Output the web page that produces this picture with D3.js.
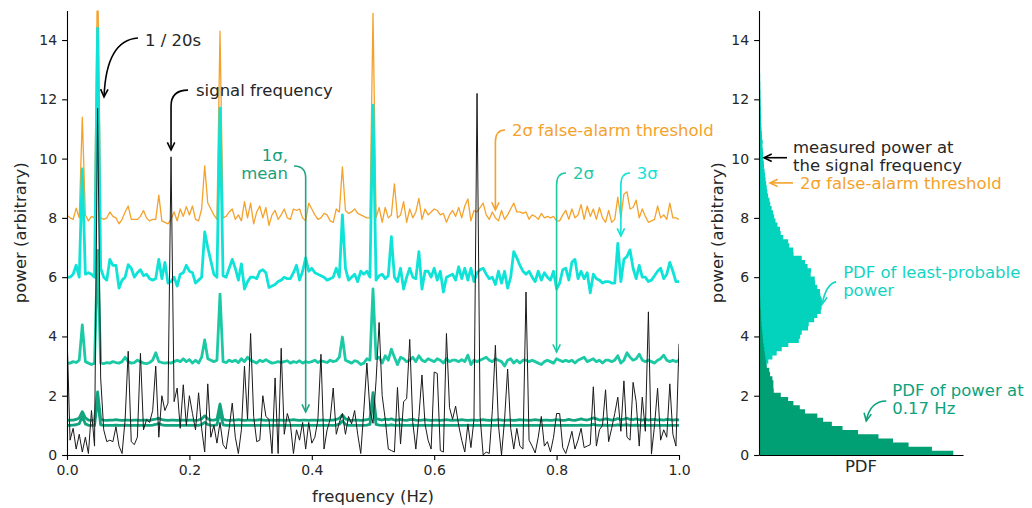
<!DOCTYPE html>
<html>
<head>
<meta charset="utf-8">
<script src="https://cdn.jsdelivr.net/npm/d3@7"></script>
<style>
  body { margin: 0; background: #fff; }
  svg text { font-family: "DejaVu Sans", sans-serif; }
</style>
</head>
<body>
<svg id="chart" width="1032" height="508"></svg>
<script>
// ---------------- data ----------------
// frequency grid: 0 .. 1 Hz in steps of 0.005 Hz (201 samples)
const frequencies = d3.range(201).map(i => i / 200);

// measured periodogram power
const measuredPower = [
  4.1, 0.5, 0.9, 0.2, 0.7, 0.1, 0.6, 0.05, 1.5, 0.3,
  11.7, 2.6, 0.85, 0.45, 0.5, 0.45, 0.95, 0.3, 0.05, 1.2,
  3.5, 0.45, 0.35, 0.6, 3.43, 0.85, 1.2, 1.1, 1.5, 3.0,
  0.6, 2.0, 1.5, 1.75, 10.06, 1.8, 2.26, 0.9, 2.37, 1.0,
  2.0, 1.4, 0.85, 2.1, 0.9, 0.1, 2.4, 0.6, 1.0, 0.4,
  1.1, 0.35, 0.2, 0.9, 1.75, 0.6, 0.05, 0.85, 3.0, 1.2,
  4.1, 1.3, 0.45, 0.5, 2.0, 1.3, 1.2, 0.05, 2.6, 0.05,
  3.6, 0.7, 1.4, 1.05, 0.05, 0.85, 0.5, 1.1, 0.2, 1.1,
  0.4, 0.6, 1.2, 3.4, 0.2, 0.85, 1.2, 2.26, 0.7, 1.1,
  1.4, 0.7, 1.3, 1.05, 1.5, 0.7, 0.05, 1.5, 3.1, 1.5,
  1.07, 2.5, 4.47, 2.0, 1.2, 0.2, 0.15, 0.1, 2.28, 0.37,
  1.8, 1.9, 3.9, 1.1, 0.2, 1.3, 2.7, 1.05, 0.5, 0.2,
  2.8, 2.75, 0.15, 0.1, 4.1, 1.6, 1.2, 1.65, 1.0, 0.5,
  0.1, 1.05, 0.25, 1.2, 12.2, 1.3, 0.0, 0.1, 0.05, 1.5,
  3.7, 1.0, 0.0, 1.2, 2.9, 0.9, 0.2, 0.9, 0.3, 0.2,
  5.5, 0.5, 0.3, 0.07, 0.6, 1.3, 0.3, 0.45, 0.1, 0.6,
  1.4, 1.4, 0.25, 0.05, 0.4, 0.8, 0.2, 0.5, 0.9, 0.25,
  0.3, 0.35, 2.3, 0.3, 0.85, 1.0, 2.2, 0.45, 0.9, 1.4,
  1.95, 0.8, 2.5, 0.6, 0.5, 2.45, 1.8, 0.3, 1.95, 0.8,
  4.83, 0.03, 1.0, 2.25, 0.5, 0.85, 0.6, 2.4, 0.7, 0.3,
  3.75
];

// mean power of the noise simulations
const meanPower = [
  1.00, 1.00, 1.01, 1.02, 1.06, 1.30, 1.05, 1.00, 1.00, 1.00,
  1.90, 1.02, 1.00, 1.00, 1.00, 1.00, 1.01, 1.00, 1.00, 1.01,
  1.00, 1.00, 1.00, 1.00, 1.00, 1.00, 1.00, 1.00, 1.01, 1.03,
  1.06, 1.02, 1.00, 1.00, 1.00, 1.00, 1.00, 1.00, 1.00, 1.00,
  1.00, 1.00, 1.00, 1.00, 1.03, 1.10, 1.03, 1.00, 1.00, 1.02,
  1.45, 1.02, 1.00, 1.00, 1.00, 1.00, 1.00, 1.00, 1.00, 1.00,
  1.00, 1.00, 1.00, 1.00, 1.00, 1.00, 1.00, 1.00, 1.00, 1.00,
  1.00, 1.00, 1.00, 1.00, 1.00, 1.00, 1.00, 1.00, 1.00, 1.00,
  1.00, 1.00, 1.00, 1.00, 1.00, 1.00, 1.00, 1.00, 1.01, 1.04,
  1.15, 1.03, 1.00, 1.00, 1.00, 1.00, 1.00, 1.00, 1.01, 1.03,
  1.85, 1.03, 1.01, 1.00, 1.01, 1.00, 1.02, 1.00, 1.00, 1.01,
  1.00, 1.00, 1.00, 1.01, 1.00, 1.00, 1.00, 1.00, 1.00, 1.00,
  1.00, 1.00, 1.00, 1.00, 1.00, 1.00, 1.00, 1.00, 1.00, 1.00,
  1.00, 1.00, 1.00, 1.00, 1.00, 1.00, 1.00, 1.00, 1.00, 1.00,
  1.00, 1.00, 1.00, 1.00, 1.00, 1.00, 1.00, 1.00, 1.00, 1.00,
  1.00, 1.00, 1.00, 1.00, 1.00, 1.00, 1.00, 1.00, 1.00, 1.00,
  1.00, 1.00, 1.00, 1.00, 1.00, 1.00, 1.00, 1.00, 1.01, 1.00,
  1.00, 1.01, 1.03, 1.01, 1.00, 1.00, 1.01, 1.00, 1.00, 1.00,
  1.02, 1.00, 1.01, 1.02, 1.00, 1.00, 1.01, 1.00, 1.00, 1.00,
  1.00, 1.00, 1.00, 1.00, 1.00, 1.00, 1.00, 1.00, 1.00, 1.00,
  1.00
];

// 1-sigma level
const sigma1Power = [
  1.17, 1.18, 1.18, 1.20, 1.25, 1.46, 1.25, 1.18, 1.17, 1.18,
  2.13, 1.20, 1.18, 1.17, 1.18, 1.18, 1.19, 1.18, 1.17, 1.18,
  1.18, 1.17, 1.18, 1.18, 1.17, 1.18, 1.18, 1.17, 1.19, 1.21,
  1.24, 1.19, 1.18, 1.17, 1.18, 1.18, 1.17, 1.18, 1.18, 1.17,
  1.18, 1.18, 1.17, 1.18, 1.22, 1.32, 1.22, 1.18, 1.18, 1.20,
  1.72, 1.20, 1.18, 1.17, 1.18, 1.18, 1.19, 1.18, 1.17, 1.18,
  1.18, 1.17, 1.18, 1.19, 1.18, 1.17, 1.18, 1.18, 1.17, 1.18,
  1.18, 1.17, 1.18, 1.18, 1.19, 1.18, 1.17, 1.18, 1.18, 1.17,
  1.18, 1.18, 1.17, 1.18, 1.18, 1.17, 1.18, 1.18, 1.20, 1.24,
  1.35, 1.22, 1.18, 1.17, 1.18, 1.18, 1.17, 1.18, 1.19, 1.22,
  2.10, 1.22, 1.20, 1.18, 1.21, 1.19, 1.22, 1.18, 1.18, 1.20,
  1.18, 1.17, 1.19, 1.20, 1.18, 1.17, 1.18, 1.19, 1.18, 1.17,
  1.18, 1.18, 1.17, 1.18, 1.19, 1.18, 1.17, 1.18, 1.18, 1.19,
  1.18, 1.17, 1.18, 1.18, 1.17, 1.18, 1.19, 1.18, 1.17, 1.18,
  1.18, 1.19, 1.18, 1.17, 1.18, 1.18, 1.17, 1.18, 1.19, 1.18,
  1.18, 1.17, 1.18, 1.19, 1.18, 1.17, 1.18, 1.18, 1.17, 1.18,
  1.19, 1.18, 1.17, 1.18, 1.20, 1.18, 1.17, 1.19, 1.22, 1.19,
  1.18, 1.21, 1.25, 1.22, 1.18, 1.19, 1.22, 1.20, 1.18, 1.19,
  1.23, 1.19, 1.21, 1.24, 1.20, 1.19, 1.22, 1.19, 1.18, 1.20,
  1.18, 1.19, 1.20, 1.18, 1.19, 1.18, 1.20, 1.19, 1.18, 1.19,
  1.18
];

// 2-sigma level
const sigma2Power = [
  3.10, 3.10, 3.15, 3.12, 3.20, 4.39, 3.15, 3.10, 3.05, 3.10,
  6.90, 3.10, 3.08, 3.12, 3.10, 3.15, 3.12, 3.10, 3.15, 3.30,
  3.15, 3.10, 3.12, 3.20, 3.15, 3.10, 3.08, 3.12, 3.20, 3.45,
  3.15, 3.12, 3.10, 3.12, 3.10, 3.15, 3.20, 3.15, 3.25, 3.15,
  3.22, 3.10, 3.20, 3.10, 3.30, 3.88, 3.25, 3.20, 3.15, 3.20,
  5.43, 3.15, 3.12, 3.20, 3.15, 3.20, 3.12, 3.25, 3.15, 3.30,
  3.20, 3.15, 3.10, 3.20, 3.15, 3.22, 3.15, 3.10, 3.12, 3.15,
  3.12, 3.15, 3.18, 3.10, 3.15, 3.12, 3.18, 3.10, 3.15, 3.12,
  3.15, 3.20, 3.12, 3.18, 3.15, 3.12, 3.20, 3.15, 3.18, 3.30,
  3.98, 3.20, 3.15, 3.10, 3.18, 3.15, 3.05, 3.10, 3.25, 3.20,
  5.60, 3.25, 3.30, 3.10, 3.35, 3.20, 3.57, 3.30, 3.05, 3.30,
  3.25, 3.15, 3.20, 3.30, 3.15, 3.35, 3.20, 3.15, 3.25, 3.20,
  3.15, 3.25, 3.20, 3.10, 3.25, 3.15, 3.20, 3.20, 3.15, 3.22,
  3.15, 3.37, 3.05, 3.20, 3.15, 3.20, 3.25, 3.30, 3.20, 3.15,
  3.25, 3.20, 3.15, 3.00, 3.20, 3.25, 3.10, 3.20, 3.10, 3.20,
  3.20, 3.15, 3.20, 3.15, 3.10, 3.05, 3.15, 3.20, 3.15, 3.10,
  3.25, 3.20, 3.15, 3.20, 3.15, 3.20, 3.10, 3.20, 3.25, 3.30,
  3.15, 3.20, 3.25, 3.15, 3.20, 3.10, 3.20, 3.20, 3.15, 3.20,
  3.35, 3.10, 3.20, 3.45, 3.30, 3.20, 3.25, 3.40, 3.20, 3.15,
  3.20, 3.15, 3.10, 3.20, 3.25, 3.37, 3.20, 3.15, 3.20, 3.15,
  3.20
];

// 3-sigma level
const sigma3Power = [
  6.00, 6.00, 6.10, 6.40, 6.00, 9.65, 6.10, 6.15, 6.10, 6.00,
  14.4, 6.30, 6.00, 5.90, 6.60, 6.40, 6.40, 5.63, 5.90, 6.00,
  6.42, 6.30, 6.00, 6.15, 6.25, 6.05, 6.10, 5.95, 5.90, 5.95,
  6.60, 5.95, 6.50, 5.80, 5.85, 6.00, 5.70, 6.10, 6.15, 6.40,
  6.20, 6.15, 5.80, 5.90, 6.00, 7.53, 7.00, 6.55, 6.10, 6.00,
  11.7, 6.05, 6.00, 6.30, 6.60, 6.30, 5.90, 6.45, 5.60, 5.85,
  6.00, 6.00, 5.95, 6.20, 6.25, 6.15, 5.65, 5.70, 5.75, 5.85,
  5.90, 6.00, 5.95, 5.95, 6.15, 6.40, 5.90, 6.20, 6.65, 6.20,
  6.30, 6.15, 6.10, 6.05, 6.00, 5.90, 5.95, 6.00, 6.30, 6.00,
  8.10, 6.30, 5.90, 6.00, 6.10, 5.85, 6.20, 6.10, 6.20, 6.00,
  11.8, 5.90, 6.05, 6.10, 5.95, 6.05, 7.37, 6.00, 5.85, 6.30,
  5.60, 6.00, 6.30, 6.00, 5.95, 6.86, 5.60, 6.20, 6.20, 6.00,
  6.30, 5.90, 6.20, 5.50, 6.00, 6.05, 6.10, 5.90, 6.35, 5.95,
  6.30, 5.90, 6.30, 5.85, 6.15, 6.25, 6.30, 6.10, 5.95, 6.00,
  5.75, 6.20, 5.80, 6.20, 5.63, 6.00, 6.86, 6.65, 6.40, 6.20,
  6.10, 6.20, 6.00, 5.85, 6.20, 5.90, 6.15, 6.00, 5.90, 6.20,
  5.60, 5.80, 6.25, 6.30, 5.90, 6.50, 6.60, 5.95, 6.20, 5.95,
  6.15, 5.47, 6.10, 5.95, 5.90, 5.80, 5.85, 5.85, 5.80, 5.80,
  7.14, 5.85, 6.60, 6.70, 6.92, 6.30, 5.95, 6.40, 6.00, 6.00,
  5.85, 5.90, 6.05, 6.20, 6.30, 5.95, 6.10, 6.50, 6.20, 5.85,
  5.85
];

// 2-sigma false-alarm threshold
const falseAlarmPower = [
  8.10, 8.00, 7.95, 8.33, 8.00, 11.4, 8.10, 7.90, 8.05, 8.00,
  16.5, 8.00, 7.95, 8.00, 8.20, 8.05, 8.00, 7.80, 7.95, 8.20,
  8.40, 7.95, 7.95, 7.95, 8.05, 8.25, 8.00, 7.90, 7.95, 7.95,
  8.77, 7.90, 7.85, 7.80, 7.95, 8.20, 7.90, 8.30, 8.05, 8.38,
  8.10, 8.40, 7.95, 7.90, 8.30, 9.75, 8.50, 8.30, 8.10, 7.95,
  14.3, 8.00, 8.05, 8.20, 8.30, 7.95, 8.10, 7.90, 8.55, 8.00,
  8.50, 7.80, 8.20, 8.40, 8.00, 8.35, 7.75, 8.10, 8.25, 7.95,
  8.10, 8.30, 8.00, 7.95, 8.30, 8.25, 8.30, 8.00, 7.90, 8.50,
  8.30, 8.10, 7.95, 8.00, 8.15, 8.10, 7.90, 7.85, 8.30, 8.20,
  9.72, 8.25, 8.15, 8.20, 8.30, 8.15, 8.10, 8.05, 8.00, 8.00,
  14.9, 8.00, 8.35, 7.85, 8.35, 8.00, 8.10, 9.15, 8.00, 8.10,
  8.55, 7.85, 8.30, 8.00, 8.20, 8.66, 7.95, 8.30, 8.10, 8.20,
  8.30, 8.25, 8.10, 8.15, 7.85, 8.10, 8.25, 8.05, 8.35, 8.00,
  8.40, 8.64, 7.90, 8.25, 8.20, 8.35, 8.50, 8.10, 7.95, 8.20,
  8.00, 7.90, 8.25, 7.95, 8.10, 8.30, 8.50, 8.20, 8.20, 8.15,
  8.20, 7.95, 8.10, 8.05, 7.95, 8.15, 8.00, 8.05, 8.00, 8.05,
  7.90, 7.90, 8.10, 8.25, 7.95, 8.30, 8.00, 8.10, 8.45, 7.95,
  8.40, 8.05, 8.30, 7.95, 8.35, 8.00, 7.85, 8.25, 7.85, 7.95,
  8.70, 8.00, 8.80, 8.88, 8.30, 8.35, 8.60, 8.00, 8.30, 8.05,
  7.85, 7.90, 7.95, 8.40, 8.00, 8.10, 7.95, 8.50, 8.00, 8.00,
  7.95
];

// histogram bins of power (width 0.14)
const binWidth = 0.14;
// PDF of power at 0.17 Hz, bins starting at 0
const pdfAt017 = [
  1.00, 0.89, 0.77, 0.69, 0.615, 0.51, 0.43, 0.375, 0.33, 0.30,
  0.237, 0.21, 0.177, 0.15, 0.112, 0.076, 0.074, 0.074, 0.069, 0.057,
  0.053, 0.040, 0.036, 0.033, 0.030, 0.027, 0.024, 0.021, 0.019, 0.017,
  0.015, 0.013, 0.012, 0.011, 0.010, 0.008, 0.007, 0.006, 0.005, 0.004,
  0.003, 0.003, 0.002, 0.002, 0.001, 0.001
];
// PDF of the least-probable power, first bin index 16 (power 2.24)
const pdfLeastFirstBin = 16;
const pdfLeastProbable = [
  0.004, 0.006, 0.012, 0.018, 0.022, 0.024, 0.048, 0.069, 0.091, 0.117,
  0.151, 0.205, 0.212, 0.220, 0.252, 0.256, 0.284, 0.300, 0.318, 0.322,
  0.325, 0.322, 0.316, 0.314, 0.300, 0.289, 0.287, 0.266, 0.268, 0.250,
  0.237, 0.220, 0.178, 0.176, 0.156, 0.150, 0.125, 0.112, 0.108, 0.095,
  0.085, 0.078, 0.072, 0.065, 0.058, 0.054, 0.047, 0.043, 0.040, 0.037,
  0.034, 0.031, 0.029, 0.026, 0.025, 0.022, 0.022, 0.020, 0.018, 0.019,
  0.016, 0.015, 0.013, 0.012, 0.011, 0.011, 0.010, 0.010, 0.009, 0.009,
  0.008, 0.008, 0.007, 0.007, 0.006, 0.006, 0.005, 0.005, 0.005, 0.004,
  0.004, 0.003, 0.003, 0.003, 0.002
];

// tick labels
const freqTicks = [0, 0.2, 0.4, 0.6, 0.8, 1.0];
const powerTicks = [0, 2, 4, 6, 8, 10, 12, 14];

// ---------------- styling ----------------
const INK = "#262626";
const C_ORANGE = "#f4a22c";
const C_3SIG = "#0fe3d7";
const C_2SIG = "#1cc9a5";
const C_1SIG = "#12a47f";
const C_HIST_LP = "#03d2bc";
const C_HIST_017 = "#009f74";

const svg = d3.select("#chart");

// left panel scales
const x = d3.scaleLinear().domain([0, 1]).range([67, 679]);
const y = d3.scaleLinear().domain([0, 15]).range([455, 10.4]);
// right panel scale (PDF)
const xp = d3.scaleLinear().domain([0, 1.05]).range([759, 963]);

const defs = svg.append("defs");
defs.append("clipPath").attr("id", "clipL").append("rect")
  .attr("x", x(0)).attr("y", y(15)).attr("width", x(1) - x(0)).attr("height", y(0) - y(15));
defs.append("clipPath").attr("id", "clipR").append("rect")
  .attr("x", xp(0)).attr("y", y(15)).attr("width", xp(1.05) - xp(0)).attr("height", y(0) - y(15));

// ---------------- left panel: spectra ----------------
const gL = svg.append("g").attr("clip-path", "url(#clipL)");
const line = d3.line().x((d, i) => x(frequencies[i])).y(d => y(d));

const series = [
  { data: falseAlarmPower, color: C_ORANGE, width: 1.3 },
  { data: sigma3Power, color: C_3SIG, width: 2.8 },
  { data: sigma2Power, color: C_2SIG, width: 2.8 },
  { data: sigma1Power, color: C_1SIG, width: 2.8 },
  { data: meanPower, color: C_1SIG, width: 2.8 },
  { data: measuredPower, color: "#1a1a1a", width: 1.0 }
];
series.forEach(s => {
  gL.append("path").datum(s.data)
    .attr("d", line)
    .attr("fill", "none")
    .attr("stroke", s.color)
    .attr("stroke-width", s.width)
    .attr("stroke-linejoin", "round");
});

// axes
function styleAxis(g) {
  g.selectAll(".domain").attr("stroke", "#000").attr("stroke-width", 1.1);
  g.selectAll(".tick line").attr("stroke", "#000").attr("stroke-width", 1.1);
  g.selectAll(".tick text").attr("fill", INK).attr("font-size", 14)
    .attr("font-family", "DejaVu Sans, sans-serif");
}
svg.append("g").attr("transform", `translate(0,${y(0)})`)
  .call(d3.axisBottom(x).tickValues(freqTicks).tickFormat(d3.format(".1f"))
    .tickSize(4.9).tickPadding(5).tickSizeOuter(0))
  .call(styleAxis);
svg.append("g").attr("transform", `translate(${x(0)},0)`)
  .call(d3.axisLeft(y).tickValues(powerTicks).tickFormat(d3.format("d"))
    .tickSize(4.9).tickPadding(5).tickSizeOuter(0))
  .call(styleAxis);

svg.append("text").attr("x", (x(0) + x(1)) / 2).attr("y", 502)
  .attr("text-anchor", "middle").attr("font-size", 16.5).attr("fill", INK)
  .text("frequency (Hz)");
svg.append("text").attr("transform", `translate(26,${(y(0) + y(15)) / 2}) rotate(-90)`)
  .attr("text-anchor", "middle").attr("font-size", 16.5).attr("fill", INK)
  .text("power (arbitrary)");

// ---------------- right panel: histograms ----------------
const gR = svg.append("g").attr("clip-path", "url(#clipR)");
const lpBins = pdfLeastProbable.map((v, k) => ({ lo: (k + pdfLeastFirstBin) * binWidth, v }));
const g017Bins = pdfAt017.map((v, k) => ({ lo: k * binWidth, v }));

// each histogram is one filled step outline (no seams between bins)
function drawHist(bins, color) {
  const first = bins[0].lo, last = bins[bins.length - 1].lo + binWidth;
  let d = `M${xp(0)},${y(first)}`;
  bins.forEach(b => {
    d += `L${xp(b.v)},${y(b.lo)}L${xp(b.v)},${y(b.lo + binWidth)}`;
  });
  d += `L${xp(0)},${y(last)}Z`;
  gR.append("path").attr("d", d).attr("fill", color);
}
drawHist(lpBins, C_HIST_LP);
drawHist(g017Bins, C_HIST_017);

svg.append("g").attr("transform", `translate(${xp(0)},0)`)
  .call(d3.axisLeft(y).tickValues(powerTicks).tickFormat(d3.format("d"))
    .tickSize(4.9).tickPadding(5).tickSizeOuter(0))
  .call(styleAxis);
svg.append("g").attr("transform", `translate(0,${y(0)})`)
  .call(d3.axisBottom(xp).tickValues([]).tickSizeOuter(0))
  .call(styleAxis);

svg.append("text").attr("x", (xp(0) + xp(1.05)) / 2).attr("y", 472)
  .attr("text-anchor", "middle").attr("font-size", 16.5).attr("fill", INK)
  .text("PDF");
svg.append("text").attr("transform", `translate(723,${(y(0) + y(15)) / 2}) rotate(-90)`)
  .attr("text-anchor", "middle").attr("font-size", 16.5).attr("fill", INK)
  .text("power (arbitrary)");

// ---------------- annotations ----------------
function drawArrow(g, p, color, sx, sy) {
  const s = [sx(p.start[0]), sy(p.start[1])];
  const t = [sx(p.tip[0]), sy(p.tip[1])];
  let d = `M${s}`;
  let prev = s;
  if (p.ctrl) {
    const c = [sx(p.ctrl[0]), sy(p.ctrl[1])];
    const b = p.bend ? [sx(p.bend[0]), sy(p.bend[1])] : t;
    d += `Q${c} ${b}`;
    prev = c;
    if (p.bend) { d += `L${t}`; prev = b; }
  } else {
    d += `L${t}`;
  }
  const ang = Math.atan2(t[1] - prev[1], t[0] - prev[0]);
  const L = 8.5, a = 0.45;
  const h1 = [t[0] - L * Math.cos(ang - a), t[1] - L * Math.sin(ang - a)];
  const h2 = [t[0] - L * Math.cos(ang + a), t[1] - L * Math.sin(ang + a)];
  g.append("path").attr("d", d).attr("fill", "none")
    .attr("stroke", color).attr("stroke-width", 1.6);
  g.append("path").attr("d", `M${h1}L${t}L${h2}`).attr("fill", "none")
    .attr("stroke", color).attr("stroke-width", 1.6)
    .attr("stroke-linejoin", "miter");
}
function drawNote(g, n, sx, sy) {
  n.lines.forEach((txt, k) => {
    g.append("text")
      .attr("x", sx(n.at[0])).attr("y", sy(n.at[1]) + k * n.lead)
      .attr("dy", "0.35em")
      .attr("text-anchor", n.anchor)
      .attr("font-size", 16.5)
      .attr("fill", n.color)
      .text(txt);
  });
  if (n.arrow) drawArrow(g, n.arrow, n.arrowColor || n.color, sx, sy);
}

const leftNotes = [
  { lines: ["1 / 20s"], at: [0.1275, 14.0], anchor: "start", color: INK, lead: 0,
    arrow: { start: [0.116, 14.07], ctrl: [0.064, 14.0], tip: [0.0605, 12.08] }, arrowColor: "#000" },
  { lines: ["signal frequency"], at: [0.2108, 12.31], anchor: "start", color: INK, lead: 0,
    arrow: { start: [0.1977, 12.31], ctrl: [0.17, 12.31], bend: [0.17, 11.77], tip: [0.17, 10.29] }, arrowColor: "#000" },
  { lines: ["1σ,", "mean"], at: [0.361, 10.12], anchor: "end", color: "#1aa07c", lead: 18,
    arrow: { start: [0.371, 9.75], ctrl: [0.39, 9.75], bend: [0.39, 9.35], tip: [0.39, 1.45] }, arrowColor: "#1fa585" },
  { lines: ["2σ false-alarm threshold"], at: [0.727, 10.96], anchor: "start", color: C_ORANGE, lead: 0,
    arrow: { start: [0.7157, 10.965], ctrl: [0.7, 10.965], bend: [0.7, 10.56], tip: [0.7, 8.27] } },
  { lines: ["2σ"], at: [0.827, 9.51], anchor: "start", color: C_2SIG, lead: 0,
    arrow: { start: [0.8154, 9.514], ctrl: [0.8, 9.514], bend: [0.8, 9.11], tip: [0.8, 3.475] } },
  { lines: ["3σ"], at: [0.931, 9.51], anchor: "start", color: C_3SIG, lead: 0,
    arrow: { start: [0.92, 9.514], ctrl: [0.905, 9.514], bend: [0.905, 9.11], tip: [0.905, 7.39] } }
];
const gNotesL = svg.append("g");
leftNotes.forEach(n => drawNote(gNotesL, n, x, y));

const rightNotes = [
  { lines: ["measured power at", "the signal frequency"], at: [0.175, 10.4], anchor: "start", color: INK, lead: 18.5,
    arrow: { start: [0.144, 10.03], tip: [0.026, 10.03] }, arrowColor: "#000" },
  { lines: ["2σ false-alarm threshold"], at: [0.211, 9.18], anchor: "start", color: C_ORANGE, lead: 0,
    arrow: { start: [0.175, 9.18], tip: [0.057, 9.18] } },
  { lines: ["PDF of least-probable", "power"], at: [0.433, 6.18], anchor: "start", color: "#13d4c4", lead: 18.5,
    arrow: { start: [0.397, 5.84], ctrl: [0.345, 5.77], tip: [0.325, 5.09] } },
  { lines: ["PDF of power at", "0.17 Hz"], at: [0.686, 2.17], anchor: "start", color: "#0ca27c", lead: 18,
    arrow: { start: [0.655, 1.82], ctrl: [0.572, 1.82], tip: [0.552, 1.15] } }
];
const gNotesR = svg.append("g");
rightNotes.forEach(n => drawNote(gNotesR, n, xp, y));
</script>
</body>
</html>
